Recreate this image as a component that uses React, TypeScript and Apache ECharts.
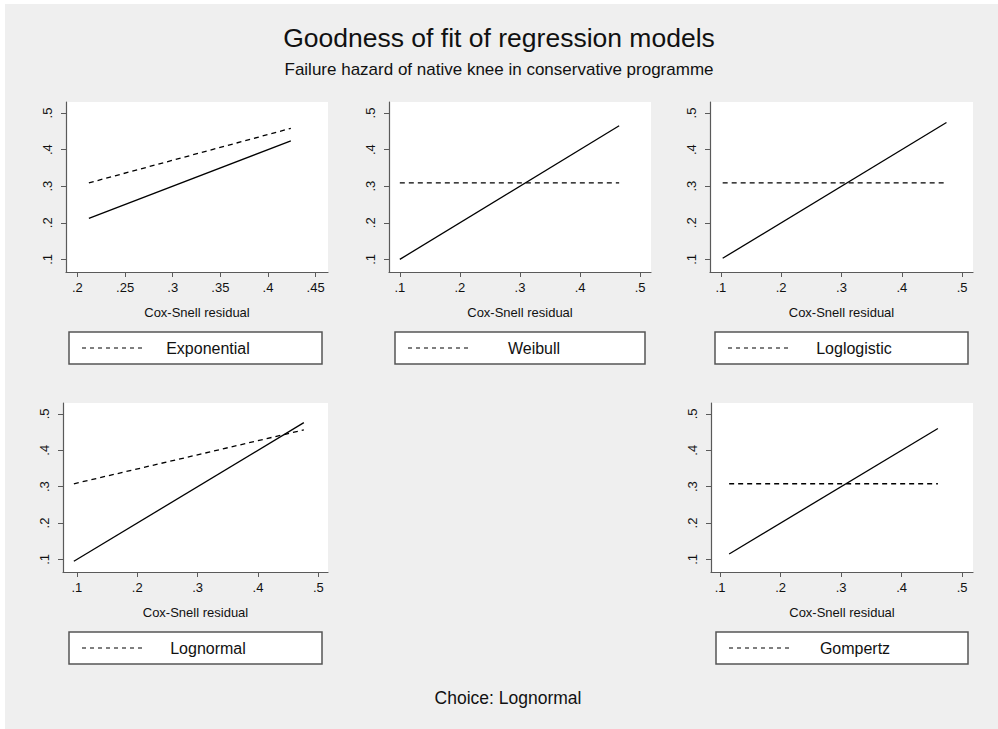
import React, { useEffect, useRef } from "react";
import * as echarts from "echarts";

// ---- data ----
const models = ["Exponential", "Weibull", "Loglogistic", "Lognormal", "Gompertz"];
// Cox-Snell residual endpoints for each model
const residExponential = [0.212, 0.424];
const residWeibull = [0.1, 0.465];
const residLoglogistic = [0.103, 0.474];
const residLognormal = [0.095, 0.476];
const residGompertz = [0.115, 0.46];
// cumulative hazard at those residuals
const hazExponential = [0.309, 0.458];
const hazWeibull = [0.309, 0.309];
const hazLoglogistic = [0.309, 0.309];
const hazLognormal = [0.308, 0.456];
const hazGompertz = [0.308, 0.308];
// tick labels
const xTicksExp = [0.2, 0.25, 0.3, 0.35, 0.4, 0.45];
const xTicks = [0.1, 0.2, 0.3, 0.4, 0.5];
const yTicks = [0.1, 0.2, 0.3, 0.4, 0.5];
const choice = "Lognormal";

const resids = [residExponential, residWeibull, residLoglogistic, residLognormal, residGompertz];
const hazards = [hazExponential, hazWeibull, hazLoglogistic, hazLognormal, hazGompertz];
const xTickSets = [xTicksExp, xTicks, xTicks, xTicks, xTicks];
const xExtents = [
  [0.188, 0.463],
  [0.082, 0.518],
  [0.082, 0.518],
  [0.077, 0.516],
  [0.085, 0.518],
];
const yExtent = [0.0655, 0.53];

// layout
const grids = [
  { left: 66, top: 102, width: 262, height: 170 },
  { left: 389, top: 102, width: 262, height: 170 },
  { left: 710, top: 102, width: 263, height: 170 },
  { left: 63, top: 403, width: 265, height: 169 },
  { left: 711, top: 403, width: 262, height: 169 },
];
const legendBoxes = [
  { x: 69, y: 332, w: 253 },
  { x: 395, y: 332, w: 250 },
  { x: 715, y: 332, w: 253 },
  { x: 69, y: 632, w: 253 },
  { x: 716, y: 632, w: 252 },
];

const FONT = "'Liberation Sans', Arial, sans-serif";
const fmt = (v: number) => String(Math.round(v * 100) / 100).replace(/^0/, "");

export default function App() {
  const ref = useRef<HTMLDivElement>(null);
  useEffect(() => {
    if (!ref.current) return;
    const chart = echarts.init(ref.current, undefined, { renderer: "svg" });
    const axisLine = { show: true, lineStyle: { color: "#5a5a5a", width: 1.2 } };
    const xAxis = models.map((_, i) => ({
      type: "value",
      gridIndex: i,
      min: xExtents[i][0],
      max: xExtents[i][1],
      splitLine: { show: false },
      axisLine,
      axisTick: { show: true, length: 5, lineStyle: { color: "#5a5a5a" }, customValues: xTickSets[i] },
      axisLabel: {
        customValues: xTickSets[i],
        formatter: fmt,
        margin: 9,
        fontSize: 13,
        color: "#111",
        fontFamily: FONT,
      },
      name: "Cox-Snell residual",
      nameLocation: "middle",
      nameGap: 34,
      nameTextStyle: { fontSize: 13, color: "#111", fontFamily: FONT },
    }));
    const yAxis = models.map((_, i) => ({
      type: "value",
      gridIndex: i,
      min: yExtent[0],
      max: yExtent[1],
      splitLine: { show: false },
      axisLine,
      axisTick: { show: true, length: 5, lineStyle: { color: "#5a5a5a" }, customValues: yTicks },
      axisLabel: {
        customValues: yTicks,
        formatter: fmt,
        rotate: 90,
        margin: 12,
        fontSize: 13,
        color: "#111",
        fontFamily: FONT,
      },
    }));
    const series: any[] = [];
    models.forEach((m, i) => {
      series.push({
        name: m,
        type: "line",
        xAxisIndex: i,
        yAxisIndex: i,
        symbol: "none",
        lineStyle: { color: "#000", width: 1.3, type: [5, 4] },
        data: resids[i].map((r, k) => [r, hazards[i][k]]),
      });
      series.push({
        name: m + " reference",
        type: "line",
        xAxisIndex: i,
        yAxisIndex: i,
        symbol: "none",
        lineStyle: { color: "#000", width: 1.3 },
        data: resids[i].map((r) => [r, r]),
      });
    });
    const graphic: any[] = [
      { type: "rect", silent: true, z: -10, shape: { x: 5, y: 4, width: 993, height: 725 }, style: { fill: "#efefef" } },
    ];
    legendBoxes.forEach((b, i) => {
      graphic.push({
        type: "rect",
        shape: { x: b.x, y: b.y, width: b.w, height: 32 },
        style: { fill: "#fff", stroke: "#555", lineWidth: 1.5 },
      });
      graphic.push({
        type: "line",
        shape: { x1: b.x + 13, y1: b.y + 16, x2: b.x + 75, y2: b.y + 16 },
        style: { stroke: "#000", lineWidth: 1.2, lineDash: [4, 4] },
      });
      graphic.push({
        type: "text",
        x: b.x + 139,
        y: b.y + 16,
        style: { text: models[i], fontSize: 16, fontFamily: FONT, fill: "#111", align: "center", verticalAlign: "middle" },
      });
    });
    graphic.push({
      type: "text",
      x: 508,
      y: 698,
      style: { text: "Choice: " + choice, fontSize: 17.5, fontFamily: FONT, fill: "#111", align: "center", verticalAlign: "middle" },
    });
    chart.setOption({
      animation: false,
      backgroundColor: "#fff",
      title: {
        text: "Goodness of fit of regression models",
        subtext: "Failure hazard of native knee in conservative programme",
        left: "center",
        top: 19,
        itemGap: 10,
        textStyle: { fontSize: 26.5, fontWeight: "normal", color: "#111", fontFamily: FONT },
        subtextStyle: { fontSize: 17, color: "#111", fontFamily: FONT },
      },
      grid: grids.map((g) => ({ ...g, show: true, backgroundColor: "#fff", borderWidth: 0, containLabel: false })),
      xAxis,
      yAxis,
      series,
      graphic,
    });
    return () => chart.dispose();
  }, []);
  return <div ref={ref} style={{ position: "fixed", left: 0, top: 0, width: 998, height: 729 }} />;
}
